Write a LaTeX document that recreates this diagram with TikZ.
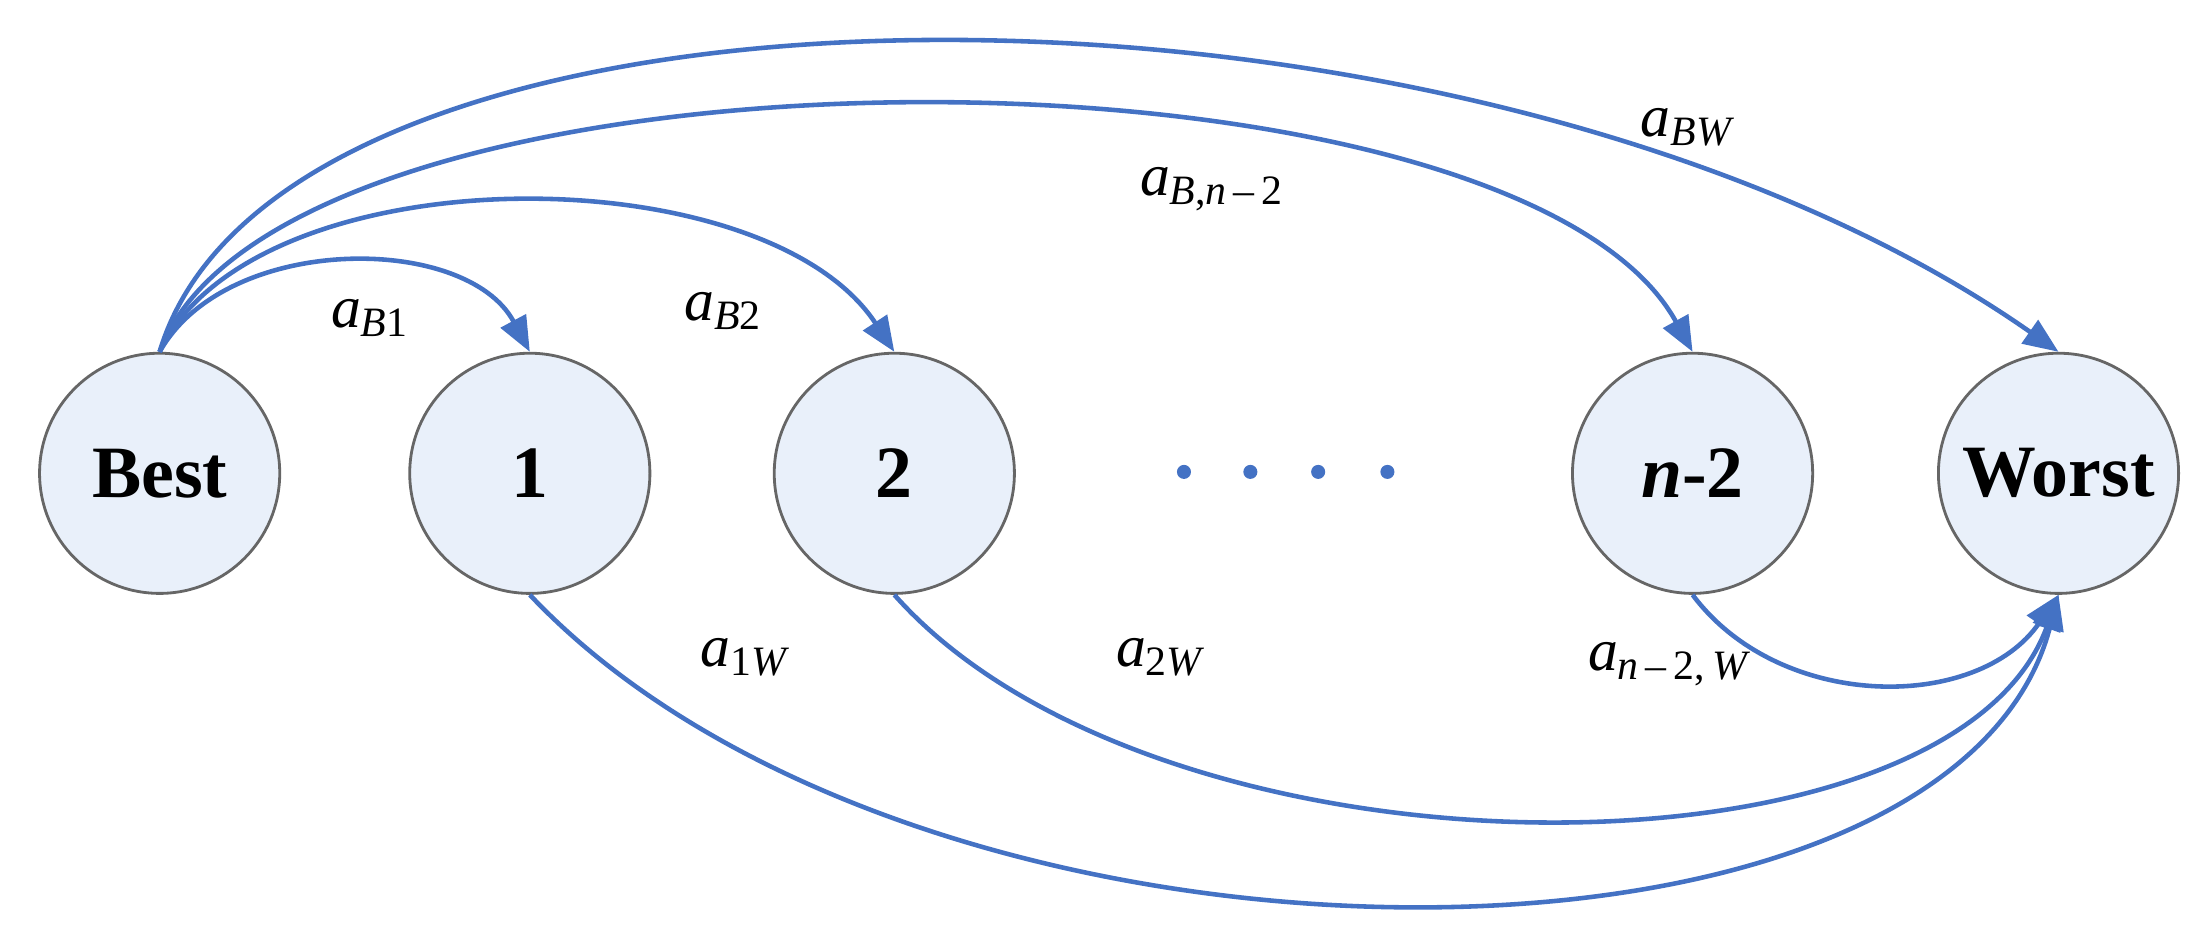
\documentclass[tikz,border=0pt]{standalone}
\usepackage{fontspec}
\setmainfont{Liberation Serif}
\usetikzlibrary{arrows.meta}
\definecolor{lineblue}{RGB}{68,114,196}
\definecolor{nodefill}{RGB}{233,240,250}
\begin{document}
\begin{tikzpicture}[x=0.01413cm,y=-0.01413cm,
  state/.style={circle,draw=black!60,fill=nodefill,line width=0.8pt,minimum size=170*0.01413cm,inner sep=0pt,font=\fontsize{21}{24}\selectfont\bfseries},
  conn/.style={draw=lineblue,line width=1.3pt,-{Triangle[length=10pt,width=8pt]}},
  lab/.style={font=\fontsize{17}{20}\selectfont}]
\useasboundingbox (0,0) rectangle (1560,667);
\node[state] (best) at (113,335) {Best};
\node[state] (n1) at (375,335) {1};
\node[state] (n2) at (633,335) {2};
\node[state] (nm2) at (1198,335) {\textit{n}-2};
\node[state] (worst) at (1457,335) {Worst};
\foreach \x/\i in {838/a,885/b,933/c,982/d} \fill[lineblue] (\x,334) circle (2pt);
\draw[conn] (best.north) .. controls (160,165) and (330,165) .. (n1.north);
\draw[conn] (best.north) .. controls (180,108) and (540,108) .. (n2.north);
\draw[conn] (best.north) .. controls (200,17) and (1070,17) .. (nm2.north);
\draw[conn] (best.north) .. controls (200,-43) and (1040,-43) .. (worst.north);
\draw[conn] (n1.south) .. controls (650,712) and (1380,712) .. (worst.south);
\draw[conn] (n2.south) .. controls (820,632) and (1380,632) .. (worst.south);
\draw[conn] (nm2.south) .. controls (1260,504) and (1400,504) .. (worst.south);
\node[lab] (l1) at (262,225) {\textit{a}\textsubscript{\textit{B}1}};
\node[lab] (l2) at (512,220) {\textit{a}\textsubscript{\textit{B}2}};
\node[lab] (l3) at (858,134) {\textit{a}\textsubscript{\textit{B},\textit{n}\,--\,2}};
\node[lab] (l4) at (1195,90) {\textit{a}\textsubscript{\textit{BW}}};
\node[lab] (l5) at (528,465) {\textit{a}\textsubscript{1\textit{W}}};
\node[lab] (l6) at (822,465) {\textit{a}\textsubscript{2\textit{W}}};
\node[lab] (l7) at (1182,470) {\textit{a}\textsubscript{\textit{n}\,--\,2,\,\textit{W}}};
\end{tikzpicture}
\end{document}
